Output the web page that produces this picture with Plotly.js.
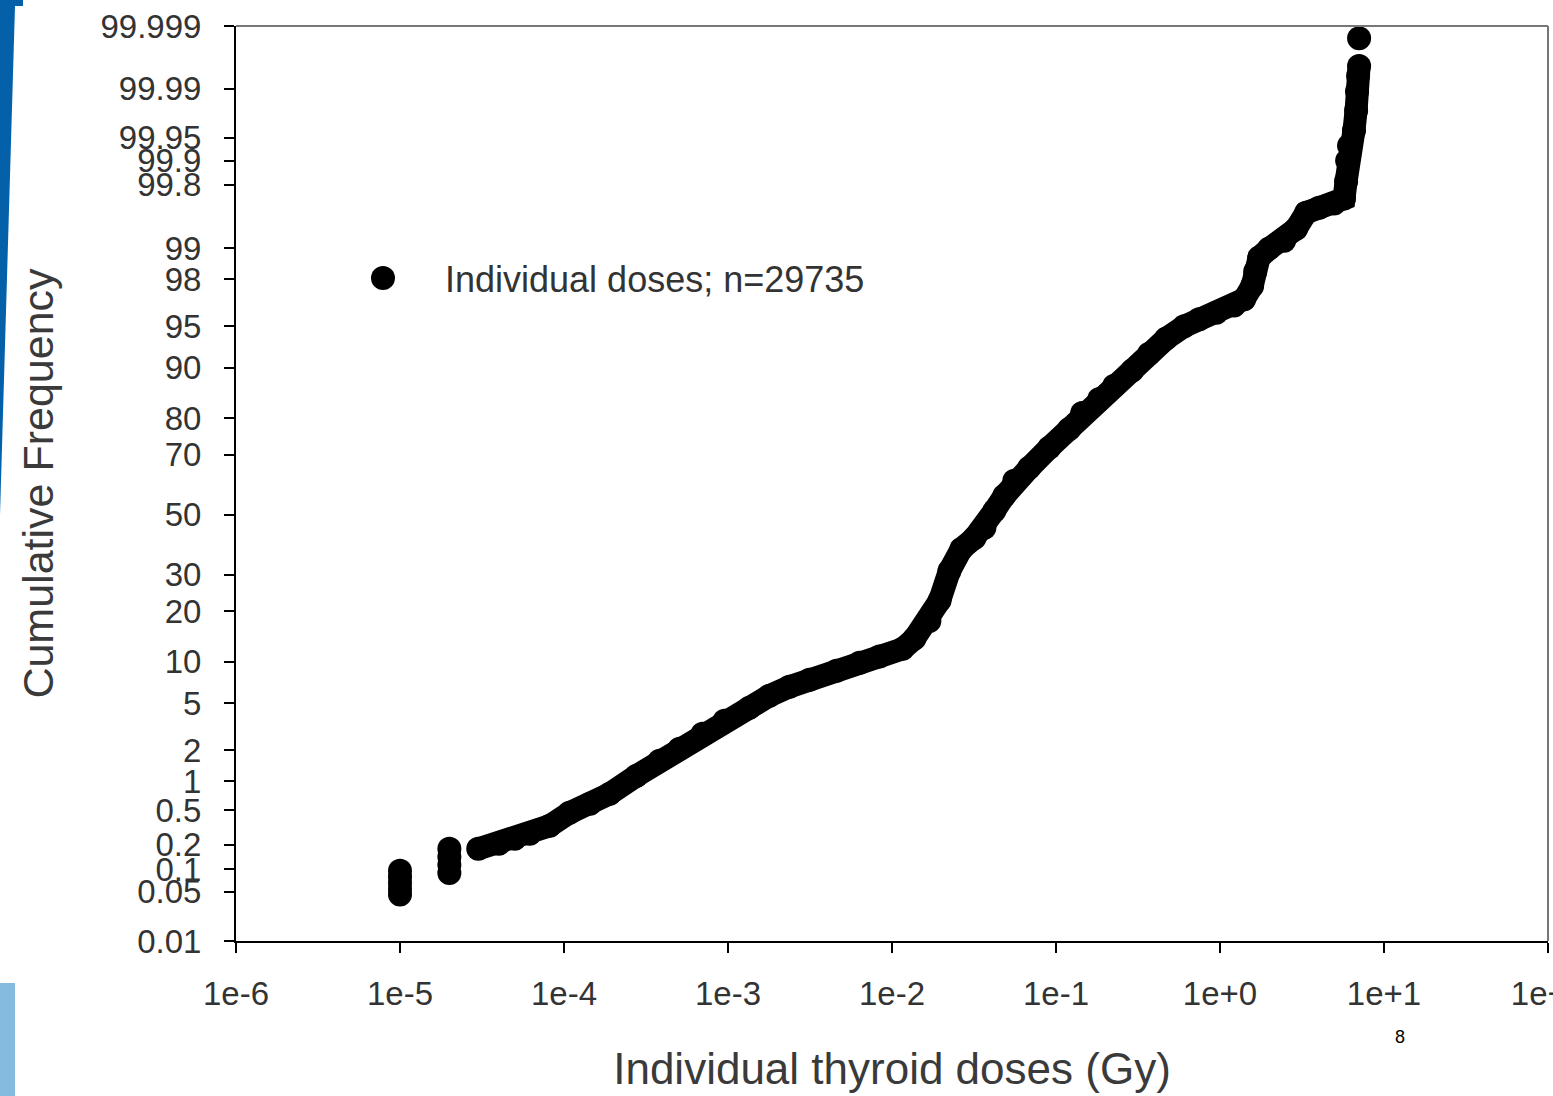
<!DOCTYPE html>
<html>
<head>
<meta charset="utf-8">
<script src="https://cdn.plot.ly/plotly-3.0.1.min.js"></script>
<style>html,body{margin:0;padding:0;background:#fff;}#chart{width:1553px;height:1096px;}</style>
</head>
<body>
<div id="chart"></div>
<script>
// ---- Data (dose in Gy, cumulative frequency in %) ----
const clusterDose = [1e-5, 1e-5, 1e-5, 1e-5, 1e-5, 2e-5, 2e-5, 2e-5, 2e-5];
const clusterPct  = [0.095, 0.079, 0.066, 0.055, 0.046, 0.178, 0.142, 0.113, 0.089];

const curveDose = [3e-5, 4e-5, 5e-5, 6.18e-5, 8.18e-5, 1.08e-4, 1.44e-4, 1.90e-4, 2.77e-4, 3.83e-4,
  5.07e-4, 7.00e-4, 9.53e-4, 1.35e-3, 1.79e-3, 2.37e-3, 3.14e-3, 4.59e-3, 6.34e-3, 8.38e-3,
  1.16e-2, 1.37e-2, 1.69e-2, 1.95e-2, 2.24e-2, 2.65e-2, 3.18e-2, 3.66e-2, 4.21e-2, 4.84e-2,
  5.57e-2, 6.87e-2, 9.10e-2, 0.1205, 0.1445, 0.1837, 0.2265, 0.2917, 0.3698, 0.4699,
  0.6053, 0.7464, 0.9484, 1.219, 1.403, 1.570, 1.638, 1.733, 1.995, 2.461,
  2.911, 3.350, 4.018, 4.966, 5.702, 5.875, 5.96, 6.12, 6.56, 6.76,
  6.85, 6.95, 7.05];
const curvePct = [0.178, 0.205, 0.235, 0.269, 0.333, 0.466, 0.584, 0.745, 1.14, 1.59,
  2.06, 2.80, 3.61, 4.61, 5.72, 6.67, 7.49, 8.67, 9.83, 10.8,
  12.1, 14.0, 17.7, 22.7, 31.2, 38.3, 42.0, 45.5, 51.4, 56.6,
  61.7, 65.9, 72.1, 77.3, 81.3, 84.4, 87.0, 89.6, 92.0, 93.8,
  95.0, 95.6, 96.1, 96.6, 97.0, 97.7, 98.3, 98.76, 98.99, 99.16,
  99.37, 99.58, 99.63, 99.67, 99.71, 99.82, 99.90, 99.936, 99.960, 99.979,
  99.989, 99.9936, 99.9955];
const topDose = [7.05];
const topPct = [99.9984];

const yTickPct = [0.01, 0.05, 0.1, 0.2, 0.5, 1, 2, 5, 10, 20, 30, 50, 70, 80, 90, 95, 98, 99, 99.8, 99.9, 99.95, 99.99, 99.999];
const yTickText = ["0.01", "0.05", "0.1", "0.2", "0.5", "1", "2", "5", "10", "20", "30", "50", "70", "80", "90", "95", "98", "99", "99.8", "99.9", "99.95", "99.99", "99.999"];
const xTickVals = [1e-6, 1e-5, 1e-4, 1e-3, 1e-2, 1e-1, 1, 10, 100];
const xTickText = ["1e-6", "1e-5", "1e-4", "1e-3", "1e-2", "1e-1", "1e+0", "1e+1", "1e+2"];
const seriesName = "Individual doses; n=29735";

// ---- Probit (inverse normal CDF, Acklam) ----
function probit(p) {
  const a = [-3.969683028665376e+01, 2.209460984245205e+02, -2.759285104469687e+02, 1.383577518672690e+02, -3.066479806614716e+01, 2.506628277459239e+00];
  const b = [-5.447609879822406e+01, 1.615858368580409e+02, -1.556989798598866e+02, 6.680131188771972e+01, -1.328068155288572e+01];
  const c = [-7.784894002430293e-03, -3.223964580411365e-01, -2.400758277161838e+00, -2.549732539343734e+00, 4.374664141464968e+00, 2.938163982698783e+00];
  const d = [7.784695709041462e-03, 3.224671290700398e-01, 2.445134137142996e+00, 3.754408661907416e+00];
  const pl = 0.02425, ph = 1 - pl;
  let q, r;
  if (p < pl) {
    q = Math.sqrt(-2 * Math.log(p));
    return (((((c[0]*q+c[1])*q+c[2])*q+c[3])*q+c[4])*q+c[5]) / ((((d[0]*q+d[1])*q+d[2])*q+d[3])*q+1);
  } else if (p <= ph) {
    q = p - 0.5; r = q * q;
    return (((((a[0]*r+a[1])*r+a[2])*r+a[3])*r+a[4])*r+a[5])*q / (((((b[0]*r+b[1])*r+b[2])*r+b[3])*r+b[4])*r+1);
  } else {
    q = Math.sqrt(-2 * Math.log(1 - p));
    return -(((((c[0]*q+c[1])*q+c[2])*q+c[3])*q+c[4])*q+c[5]) / ((((d[0]*q+d[1])*q+d[2])*q+d[3])*q+1);
  }
}
const toZ = arr => arr.map(v => probit(v / 100));

const allDose = clusterDose.concat(curveDose, topDose);
const allPct = clusterPct.concat(curvePct, topPct);

const traces = [
  {
    x: curveDose, y: toZ(curvePct), type: 'scatter', mode: 'lines',
    line: {color: '#000', width: 23}, showlegend: false, hoverinfo: 'skip'
  },
  {
    x: allDose, y: toZ(allPct), type: 'scatter', mode: 'markers',
    name: seriesName,
    marker: {color: '#000', size: 24, symbol: 'circle'}
  }
];

const FONT = '"Liberation Sans", Arial, Helvetica, sans-serif';
const L = 236, R = 1548, T = 26, B = 941, W = 1553, H = 1096;
const px = v => (v - L) / (R - L);
const py = v => (B - v) / (B - T);
const legSymX = 383, legSymY = 278, legSymR = 12;

const layout = {
  width: W, height: H,
  margin: {l: L, r: W - R, t: T, b: H - B, pad: 0},
  paper_bgcolor: '#fff', plot_bgcolor: '#fff',
  font: {family: FONT, color: '#333'},
  showlegend: true,
  legend: {
    x: px(legSymX - 62), y: py(legSymY), xanchor: 'left', yanchor: 'middle',
    font: {family: FONT, size: 36, color: '#333'},
    bgcolor: 'rgba(0,0,0,0)', borderwidth: 0, itemwidth: 114
  },
  xaxis: {
    type: 'log', range: [-6, 2],
    tickvals: xTickVals, ticktext: xTickText,
    ticks: 'outside', ticklen: 10, tickwidth: 2, tickcolor: '#000',
    showline: true, linecolor: '#000', linewidth: 2,
    showgrid: false, zeroline: false,
    tickfont: {family: FONT, size: 33, color: '#333'},
    ticklabelstandoff: 12, ticklabeloverflow: 'allow',
    title: {text: 'Individual thyroid doses (Gy)', font: {family: FONT, size: 44, color: '#3a3a3a'}, standoff: 43}
  },
  yaxis: {
    range: [probit(0.0001), probit(0.99999)],
    tickvals: toZ(yTickPct), ticktext: yTickText,
    ticks: 'outside', ticklen: 10, tickwidth: 2, tickcolor: '#000',
    showline: true, linecolor: '#000', linewidth: 2,
    showgrid: false, zeroline: false,
    tickfont: {family: FONT, size: 33, color: '#333'},
    ticklabelstandoff: 16, ticklabeloverflow: 'allow',
    title: {text: 'Cumulative Frequency', font: {family: FONT, size: 43, color: '#3a3a3a'}, standoff: 33}
  },
  shapes: [
    {type: 'line', xref: 'paper', yref: 'paper', x0: 0, x1: 1, y0: 1, y1: 1, line: {color: '#777', width: 2}},
    {type: 'line', xref: 'paper', yref: 'paper', x0: 1, x1: 1, y0: 0, y1: 1, line: {color: '#777', width: 2}},
    {type: 'path', xref: 'paper', yref: 'paper', fillcolor: '#0461A9', line: {width: 0},
     path: `M ${px(0)} ${py(0)} L ${px(23)} ${py(0)} L ${px(23)} ${py(6)} L ${px(15)} ${py(6)} L ${px(0)} ${py(515)} Z`},
    {type: 'rect', xref: 'paper', yref: 'paper', fillcolor: '#86BBE0', line: {width: 0},
     x0: px(0), x1: px(15), y0: py(1096), y1: py(983)},
    // enlarge the legend symbol to the reference's marker size
    {type: 'circle', xref: 'paper', yref: 'paper', fillcolor: '#000', line: {width: 0},
     x0: px(legSymX - legSymR), x1: px(legSymX + legSymR), y0: py(legSymY + legSymR), y1: py(legSymY - legSymR)}
  ],
  annotations: [
    {text: '8', xref: 'paper', yref: 'paper', x: px(1400), y: py(1037), xanchor: 'center', yanchor: 'middle',
     showarrow: false, font: {family: FONT, size: 18, color: '#000'}}
  ]
};

Plotly.newPlot('chart', traces, layout, {displayModeBar: false, staticPlot: true});
</script>
</body>
</html>
